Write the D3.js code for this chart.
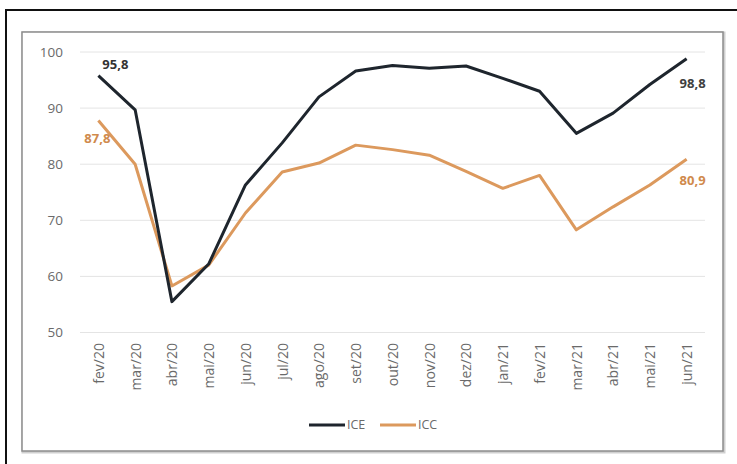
<!DOCTYPE html>
<meta charset="utf-8">
<style>
body { margin: 0; background: #fff; }
text { font-family: "Open Sans", "Noto Sans", sans-serif; }
.grid line { stroke: #e4e4e4; stroke-width: 1px; }
.line { fill: none; stroke-width: 3px; stroke-linejoin: round; }
</style>
<svg width="737" height="464"></svg>
<script src="https://cdn.jsdelivr.net/npm/d3@7"></script>
<script>

var months = ["fev/20", "mar/20", "abr/20", "mai/20", "jun/20", "jul/20", "ago/20", "set/20", "out/20",
              "nov/20", "dez/20", "jan/21", "fev/21", "mar/21", "abr/21", "mai/21", "jun/21"];
var ice = [95.8, 89.7, 55.5, 62.2, 76.3, 83.8, 92.0, 96.6, 97.6, 97.1, 97.5, 95.3, 93.0, 85.5, 89.1, 94.2, 98.8];
var icc = [87.8, 80.0, 58.3, 62.0, 71.3, 78.6, 80.2, 83.4, 82.6, 81.6, 78.7, 75.7, 78.0, 68.3, 72.4, 76.3, 80.9];
var yTicks = [50, 60, 70, 80, 90, 100];
var seriesNames = ["ICE", "ICC"];

var svg = d3.select("svg");

// outer frame (cut off at right and bottom like the source image)
svg.append("rect")
  .attr("x", 6).attr("y", 10).attr("width", 740).attr("height", 470)
  .attr("fill", "none").attr("stroke", "#111").attr("stroke-width", 2);

// chart area frame
svg.append("rect")
  .attr("x", 23).attr("y", 33).attr("width", 701).attr("height", 419)
  .attr("fill", "none").attr("stroke", "#d0d0d0").attr("stroke-width", 3);
svg.append("rect")
  .attr("x", 22).attr("y", 32).attr("width", 701).attr("height", 419)
  .attr("fill", "#fff").attr("stroke", "#8c8c8c").attr("stroke-width", 1.5);

var x = d3.scalePoint().domain(months).range([80, 705]).padding(0.5),
    y = d3.scaleLinear().domain([50, 100]).range([332.5, 52]);

var colors = { ICE: "#1e252d", ICC: "#dc995d" };

// gridlines
svg.append("g").attr("class", "grid")
  .selectAll("line").data(yTicks).enter().append("line")
  .attr("x1", 80).attr("x2", 705)
  .attr("y1", function(d) { return y(d); })
  .attr("y2", function(d) { return y(d); });

// y axis labels
svg.append("g")
  .attr("transform", "translate(63,0)")
  .call(d3.axisLeft(y).tickValues(yTicks).tickSize(0).tickPadding(0))
  .call(function(g) { g.select(".domain").remove(); })
  .selectAll("text")
  .attr("fill", "#6a6a6a")
  .style("font-size", "13.5px")
  .style("font-family", "'Open Sans', sans-serif");

// x axis labels, rotated
svg.append("g")
  .attr("transform", "translate(0,340)")
  .call(d3.axisBottom(x).tickSize(0).tickPadding(0))
  .call(function(g) { g.select(".domain").remove(); })
  .selectAll("text")
  .attr("fill", "#6a6a6a")
  .style("font-size", "14px")
  .style("font-family", "'Open Sans', sans-serif")
  .attr("text-anchor", "end")
  .attr("transform", "rotate(-90)")
  .attr("x", -3)
  .attr("y", 0)
  .attr("dy", "0.35em");

var line = d3.line()
  .x(function(d, i) { return x(months[i]); })
  .y(function(d) { return y(d); });

svg.append("path").datum(icc)
  .attr("class", "line")
  .attr("stroke", colors.ICC)
  .attr("d", line);

svg.append("path").datum(ice)
  .attr("class", "line")
  .attr("stroke", colors.ICE)
  .attr("d", line);

// data labels on first and last points
var last = months.length - 1;
var labels = [
  { text: "95,8", x: x(months[0]) + 17, y: y(ice[0]) - 11, color: "#333", anchor: "middle" },
  { text: "87,8", x: x(months[0]) - 1, y: y(icc[0]) + 18, color: "#d08a4c", anchor: "middle" },
  { text: "98,8", x: x(months[last]) + 6, y: y(ice[last]) + 25, color: "#404040", anchor: "middle" },
  { text: "80,9", x: x(months[last]) + 6, y: y(icc[last]) + 21, color: "#d08a4c", anchor: "middle" }
];
svg.append("g").selectAll("text").data(labels).enter().append("text")
  .attr("x", function(d) { return d.x; })
  .attr("y", function(d) { return d.y; })
  .attr("dy", "0.35em")
  .attr("text-anchor", function(d) { return d.anchor; })
  .attr("fill", function(d) { return d.color; })
  .style("font-size", "13px")
  .style("font-weight", "bold")
  .text(function(d) { return d.text; });

// legend
var legend = svg.append("g").attr("transform", "translate(309,425)");
var item = legend.selectAll("g").data(seriesNames).enter().append("g")
  .attr("transform", function(d, i) { return "translate(" + (i * 71) + ",0)"; });
item.append("line")
  .attr("x1", 0).attr("x2", 36)
  .attr("stroke", function(d) { return colors[d]; })
  .attr("stroke-width", 3);
item.append("text")
  .attr("x", 38).attr("dy", "0.35em")
  .attr("fill", "#6a6a6a")
  .style("font-size", "12.5px")
  .text(function(d) { return d; });

</script>
